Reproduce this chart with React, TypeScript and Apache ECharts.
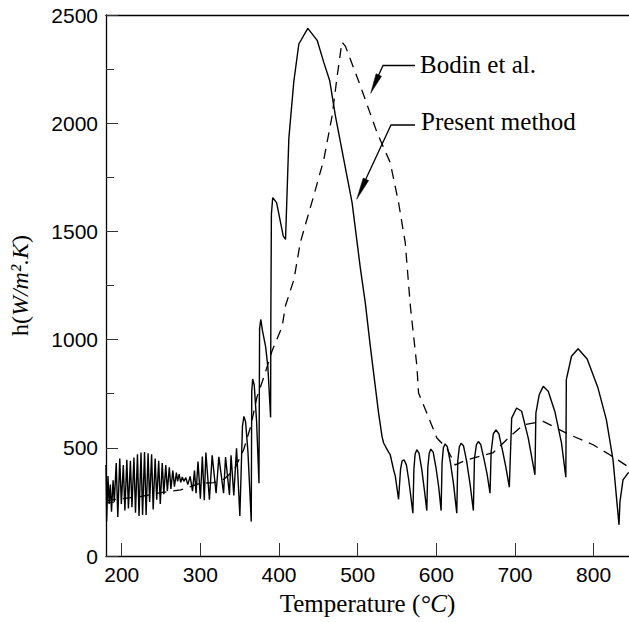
import React, { useEffect, useRef } from "react";
import * as echarts from "echarts";

const xTicks = [200, 300, 400, 500, 600, 700, 800];
const yTicks = [0, 500, 1000, 1500, 2000, 2500];

// Present method: low temperature oscillations
const presentLow: [number, number][] = [
  [180, 420], [180.8, 160], [182.5, 370], [184, 240], [185.5, 330], [187, 205], [189, 350], [190.5, 250],
  [193, 430], [195, 180], [197.5, 450], [199.5, 240], [202, 420], [204, 210], [206.5, 445], [208.5, 220],
  [211, 440], [213, 225], [215.5, 455], [217.5, 200], [220, 470], [222, 185], [224.5, 478], [226.5, 190],
  [229, 480], [231, 190], [233.5, 475], [235.5, 250], [238, 470], [240, 215], [242.5, 450], [244.5, 260],
  [247, 440], [249, 240], [251.5, 430], [253.5, 285], [256, 420], [258, 300], [260.5, 410], [262.5, 310],
  [265, 395], [267, 320], [269.5, 385], [271, 345], [273, 378], [275, 340], [277, 365], [279, 345],
  [281.5, 362], [284, 330], [287, 368], [290, 300], [292.5, 395], [294.5, 290], [297, 437], [300, 265],
  [302.5, 460], [305, 258], [307, 478], [311.5, 260], [315, 465], [320, 290], [323.5, 458], [329.5, 290],
  [332, 457], [337, 282], [339, 465], [342.5, 280], [346, 498], [350.2, 185],
];

// Present method: main peak region
const presentPeak: [number, number][] = [
  [353.5, 600], [355.4, 645], [357.5, 620], [360.5, 480], [364.7, 159],
  [365.3, 760], [366.5, 818], [368.5, 790], [371.5, 620], [374.5, 336],
  [375.3, 1050], [376.8, 1093], [379, 1040], [382.9, 969], [385.8, 875], [389.3, 640],
  [389.6, 1100], [390.3, 1580], [392, 1656], [396.9, 1633], [405.4, 1478], [408.3, 1463],
  [412.5, 1930], [418.8, 2192], [425.2, 2366], [436.6, 2438], [448.5, 2383], [456.9, 2281],
  [464.5, 2196], [471.7, 2034], [482.3, 1833], [492.9, 1633], [503.4, 1330], [509.7, 1170],
  [516.1, 969], [526.6, 660], [531, 552], [533, 522], [539.3, 480], [541.4, 468], [545.7, 398],
  [547.8, 370], [552, 262],
];

// Present method: high temperature oscillations
const presentTail: [number, number][] = [
  [554.5, 400], [556.5, 440], [559.2, 444], [562, 420], [565, 350], [570.2, 198],
  [571.5, 400], [573, 470], [575.2, 491], [578, 475], [581.5, 400], [585, 300], [587.9, 210],
  [589.2, 410], [591, 475], [593, 494], [596, 480], [599.5, 410], [603, 320], [606.1, 210],
  [607.3, 430], [609, 500], [611.2, 518], [614, 505], [618, 430], [622, 330], [626, 198],
  [627.3, 440], [629.3, 505], [631.5, 521], [634.5, 510], [638.5, 440], [643, 330], [647.1, 210],
  [648.5, 450], [651, 515], [653.4, 529], [656.5, 515], [660.5, 450], [664.5, 380], [668.3, 290],
  [669.7, 480], [672.5, 565], [675.9, 583], [679.5, 565], [684, 490], [688.5, 410], [692.8, 318],
  [695.8, 637], [702.1, 684], [708.5, 669], [716.9, 545], [725.4, 375],
  [726.6, 660], [730.8, 745], [735.9, 784], [742.3, 761], [750.7, 668], [759.2, 522], [764.7, 364],
  [765.3, 815], [771.9, 923], [780.3, 958], [791.8, 910], [805.6, 776], [816.2, 630], [824.7, 444],
  [832.3, 144], [833.5, 250], [837.4, 352], [843.7, 383], [845, 385],
];

// Bodin et al.
const bodin: [number, number][] = [
  [180, 255], [200, 265], [224, 275], [250, 293], [275, 306], [300, 336], [317, 339], [330, 355],
  [343, 398], [355, 491], [364, 599], [372, 735], [381, 830], [391, 946], [404, 1060], [408, 1154],
  [419, 1278], [427, 1448], [444, 1663], [457, 1833], [467.5, 2034], [474, 2219], [480, 2375],
  [484.5, 2355], [503.4, 2173], [524.6, 1957], [541.4, 1818], [552, 1633], [560.5, 1448], [567, 1154],
  [575.3, 877], [577.4, 753], [588, 660], [600.7, 545], [613.4, 498], [624, 421], [638.7, 444],
  [672.5, 478], [693.6, 552], [710.5, 606], [735.9, 622], [769.7, 560], [799.3, 514], [820.5, 468],
  [845, 410],
];

const presentMethod = [...presentLow, ...presentPeak, ...presentTail];

const SERIF = '"Liberation Serif", "Times New Roman", Times, serif';
const SANS = '"Liberation Sans", Arial, Helvetica, sans-serif';

function arrowHead(fx: number, fy: number, tx: number, ty: number, len: number, half: number) {
  const dx = tx - fx;
  const dy = ty - fy;
  const l = Math.hypot(dx, dy);
  const ux = dx / l;
  const uy = dy / l;
  const bx = tx - ux * len;
  const by = ty - uy * len;
  const px = -uy * half;
  const py = ux * half;
  return [[tx, ty], [bx + px, by + py], [bx - px, by - py]];
}

export default function App() {
  const ref = useRef<HTMLDivElement>(null);
  useEffect(() => {
    const chart = echarts.init(ref.current!, null, { renderer: "svg" });
    const axisLineStyle = { color: "#000", width: 1.3 };
    const option = {
      animation: false,
      backgroundColor: "#fff",
      grid: { left: 105, right: 0, top: 15, bottom: 66, containLabel: false },
      xAxis: [
        {
          type: "value",
          min: 180,
          max: 845,
          position: "bottom",
          axisLine: { show: true, onZero: false, lineStyle: axisLineStyle },
          axisTick: { show: true, inside: true, length: 13, customValues: xTicks, lineStyle: { color: "#333", width: 1 } },
          axisLabel: { customValues: xTicks, color: "#000", fontSize: 21, fontFamily: SANS, margin: 8, formatter: (v: number) => String(v) },
          splitLine: { show: false },
          name: "Temperature ({i|°C})",
          nameLocation: "middle",
          nameGap: 35,
          nameTextStyle: {
            color: "#000",
            fontSize: 25,
            fontFamily: SERIF,
            rich: { i: { fontStyle: "italic", fontSize: 25, fontFamily: SERIF, color: "#000" } },
          },
        },
        {
          type: "value",
          min: 180,
          max: 845,
          position: "top",
          axisLine: { show: true, onZero: false, lineStyle: axisLineStyle },
          axisTick: { show: false },
          axisLabel: { show: false },
          splitLine: { show: false },
        },
      ],
      yAxis: {
        type: "value",
        min: yTicks[0],
        max: yTicks[yTicks.length - 1],
        interval: 500,
        axisLine: { show: true, onZero: false, lineStyle: axisLineStyle },
        axisTick: { show: true, inside: true, length: 12, lineStyle: { color: "#333", width: 1 } },
        minorTick: { show: true, splitNumber: 2, length: 8, lineStyle: { color: "#333", width: 1 } },
        axisLabel: { color: "#000", fontSize: 21, fontFamily: SANS, margin: 8, formatter: (v: number) => String(v) },
        splitLine: { show: false },
        minorSplitLine: { show: false },
        name: "h({i|W/m².K})",
        nameLocation: "middle",
        nameGap: 74,
        nameRotate: 90,
        nameTextStyle: {
          color: "#000",
          fontSize: 24,
          fontFamily: SERIF,
          rich: { i: { fontStyle: "italic", fontSize: 24, fontFamily: SERIF, color: "#000" } },
        },
      },
      series: [
        {
          name: "Present method",
          type: "line",
          data: presentMethod,
          showSymbol: false,
          symbol: "none",
          lineStyle: { color: "#000", width: 1.4 },
          z: 3,
        },
        {
          name: "Bodin et al.",
          type: "line",
          data: bodin,
          showSymbol: false,
          symbol: "none",
          lineStyle: { color: "#000", width: 1.3, type: [10, 7] },
          z: 2,
        },
      ],
      graphic: [
        {
          type: "text",
          x: 420,
          y: 64.5,
          style: { text: "Bodin et al.", fill: "#000", fontSize: 25, fontFamily: SERIF, verticalAlign: "middle", align: "left" },
        },
        {
          type: "text",
          x: 421,
          y: 121.7,
          style: { text: "Present method", fill: "#000", fontSize: 25, fontFamily: SERIF, verticalAlign: "middle", align: "left" },
        },
        {
          type: "polyline",
          shape: { points: [[415, 65.5], [383, 65.5], [376, 81]] },
          style: { stroke: "#000", lineWidth: 1.3, fill: null },
        },
        {
          type: "polygon",
          shape: { points: arrowHead(383, 65.5, 370.7, 93.3, 20, 3) },
          style: { fill: "#000", stroke: "#000", lineWidth: 0.5 },
        },
        {
          type: "polyline",
          shape: { points: [[415, 125], [391, 125], [364, 183]] },
          style: { stroke: "#000", lineWidth: 1.3, fill: null },
        },
        {
          type: "polygon",
          shape: { points: arrowHead(391, 125, 356.7, 199.3, 22, 3) },
          style: { fill: "#000", stroke: "#000", lineWidth: 0.5 },
        },
      ],
    };
    chart.setOption(option as any);
    return () => chart.dispose();
  }, []);
  return (
    <div
      ref={ref}
      style={{ position: "fixed", left: 0, top: 0, width: 629, height: 622, background: "#fff" }}
    />
  );
}
